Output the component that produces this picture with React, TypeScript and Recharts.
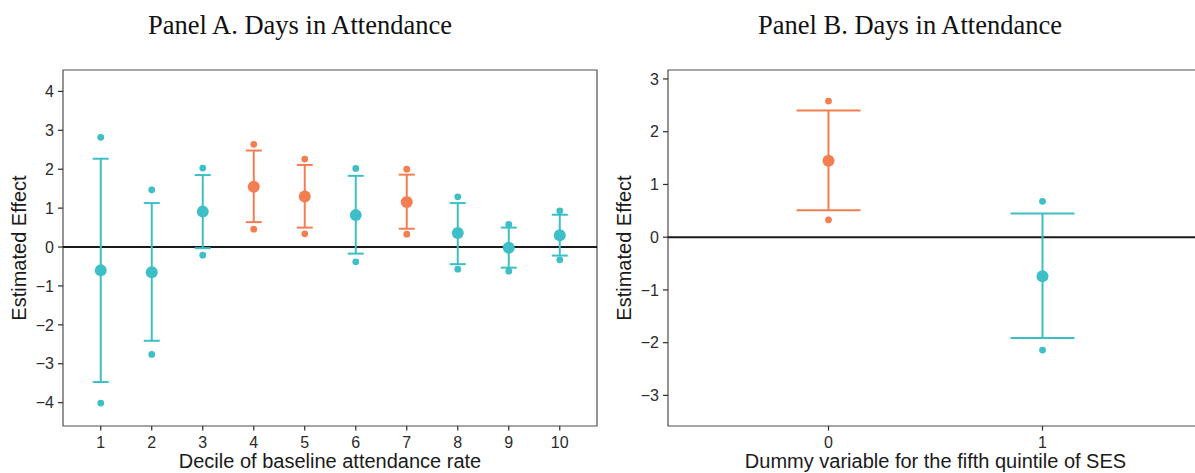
import React from "react";
import {
  ErrorBar,
  Label,
  ReferenceArea,
  ReferenceLine,
  Scatter,
  ScatterChart,
  XAxis,
  YAxis,
} from "recharts";

// Panel A: effect by decile of baseline attendance
const deciles = [1, 2, 3, 4, 5, 6, 7, 8, 9, 10];
const estA = [-0.6, -0.65, 0.91, 1.55, 1.3, 0.82, 1.16, 0.36, -0.02, 0.3];
const capLoA = [-3.47, -2.41, -0.03, 0.64, 0.5, -0.17, 0.47, -0.44, -0.53, -0.22];
const capHiA = [2.27, 1.13, 1.85, 2.48, 2.11, 1.83, 1.86, 1.13, 0.5, 0.83];
const dotLoA = [-4.01, -2.76, -0.21, 0.46, 0.34, -0.38, 0.33, -0.57, -0.62, -0.33];
const dotHiA = [2.82, 1.47, 2.03, 2.64, 2.26, 2.02, 2.0, 1.29, 0.58, 0.93];
const sigA = [false, false, false, true, true, false, true, false, false, false];
const yTicksA = [-4, -3, -2, -1, 0, 1, 2, 3, 4];

// Panel B: effect by fifth-quintile SES dummy
const dummy = [0, 1];
const estB = [1.45, -0.74];
const capLoB = [0.51, -1.91];
const capHiB = [2.4, 0.45];
const dotLoB = [0.33, -2.14];
const dotHiB = [2.58, 0.68];
const sigB = [true, false];
const yTicksB = [-3, -2, -1, 0, 1, 2, 3];

const TEAL = "#3CBFC6";
const ORANGE = "#F47E52";
const INK = "#2b2b2b";
const FONT = "'Liberation Sans', Arial, Helvetica, sans-serif";

const fmt = (v: number) => (v < 0 ? "\u2212" + Math.abs(v) : String(v));

interface PanelProps {
  xs: number[];
  est: number[];
  capLo: number[];
  capHi: number[];
  dotLo: number[];
  dotHi: number[];
  sig: boolean[];
  xDomain: [number, number];
  yDomain: [number, number];
  yTicks: number[];
  capHalf: number;
  xLabel: string;
  width: number;
  yAxisWidth: number;
  rightMargin: number;
  yLabelOffset: number;
}

const Panel = (p: PanelProps) => {
  const rows = p.xs.map((x, i) => ({
    x,
    y: p.est[i],
    err: [p.est[i] - p.capLo[i], p.capHi[i] - p.est[i]],
    sig: p.sig[i],
  }));
  const sigRows = rows.filter((r) => r.sig);
  const nsRows = rows.filter((r) => !r.sig);
  const dots = p.xs.flatMap((x, i) => [
    { x, y: p.dotLo[i], sig: p.sig[i] },
    { x, y: p.dotHi[i], sig: p.sig[i] },
  ]);

  const big = (color: string) => (s: any) =>
    <circle cx={s.cx} cy={s.cy} r={6} fill={color} />;
  const small = (s: any) => (
    <circle cx={s.cx} cy={s.cy} r={3.4} fill={s.payload.sig ? ORANGE : TEAL} />
  );

  return (
    <ScatterChart
      width={p.width}
      height={473}
      margin={{ top: 70, right: p.rightMargin, bottom: 0, left: 0 }}
    >
      <XAxis
        type="number"
        dataKey="x"
        domain={p.xDomain}
        ticks={p.xs}
        allowDataOverflow
        axisLine={false}
        tickLine={{ stroke: INK, strokeWidth: 1.2 }}
        tickSize={4.5}
        tickMargin={6.5}
        fontSize={16}
        fontFamily={FONT}
        tick={{ fill: INK, fontSize: 16, fontFamily: FONT }}
        height={47}
      >
        <Label
          value={p.xLabel}
          position="insideBottom"
          offset={5}
          style={{ fill: "#1a1a1a", fontSize: 20, fontFamily: FONT }}
        />
      </XAxis>
      <YAxis
        type="number"
        dataKey="y"
        domain={p.yDomain}
        ticks={p.yTicks}
        allowDataOverflow
        tickFormatter={fmt}
        axisLine={false}
        tickLine={{ stroke: INK, strokeWidth: 1.2 }}
        tickSize={5}
        tickMargin={4}
        fontSize={16}
        fontFamily={FONT}
        tick={{ fill: INK, fontSize: 16, fontFamily: FONT }}
        width={p.yAxisWidth}
      >
        <Label
          value="Estimated Effect"
          angle={-90}
          position="insideLeft"
          offset={p.yLabelOffset}
          style={{ textAnchor: "middle", fill: "#1a1a1a", fontSize: 20, fontFamily: FONT }}
        />
      </YAxis>
      <ReferenceArea
        x1={p.xDomain[0]}
        x2={p.xDomain[1]}
        y1={p.yDomain[0]}
        y2={p.yDomain[1]}
        fill="none"
        stroke="#4d4d4d"
        strokeWidth={1.2}
      />
      <ReferenceLine y={0} stroke="#1a1a1a" strokeWidth={2} />
      <Scatter data={dots} shape={small} isAnimationActive={false} />
      <Scatter data={nsRows} shape={big(TEAL)} isAnimationActive={false}>
        <ErrorBar
          dataKey="err"
          direction="y"
          width={p.capHalf}
          stroke={TEAL}
          strokeWidth={2}
        />
      </Scatter>
      <Scatter data={sigRows} shape={big(ORANGE)} isAnimationActive={false}>
        <ErrorBar
          dataKey="err"
          direction="y"
          width={p.capHalf}
          stroke={ORANGE}
          strokeWidth={2}
        />
      </Scatter>
    </ScatterChart>
  );
};

const titleStyle: React.CSSProperties = {
  position: "absolute",
  top: 10,
  width: 600,
  textAlign: "center",
  fontFamily: "'Liberation Serif', 'Times New Roman', serif",
  fontSize: 26.5,
  lineHeight: "30px",
  color: "#111",
};

export default function App() {
  return (
    <div
      style={{
        position: "absolute",
        left: 0,
        top: 0,
        width: 1195,
        height: 473,
        overflow: "hidden",
        background: "#fff",
      }}
    >
      <div style={{ position: "absolute", left: 0, top: 0 }}>
        <Panel
          xs={deciles}
          est={estA}
          capLo={capLoA}
          capHi={capHiA}
          dotLo={dotLoA}
          dotHi={dotHiA}
          sig={sigA}
          xDomain={[0.26, 10.73]}
          yDomain={[-4.6, 4.55]}
          yTicks={yTicksA}
          capHalf={8}
          xLabel="Decile of baseline attendance rate"
          width={600}
          yAxisWidth={63}
          rightMargin={3}
          yLabelOffset={19}
        />
      </div>
      <div style={{ position: "absolute", left: 600, top: 0 }}>
        <Panel
          xs={dummy}
          est={estB}
          capLo={capLoB}
          capHi={capHiB}
          dotLo={dotLoB}
          dotHi={dotHiB}
          sig={sigB}
          xDomain={[-0.75, 1.75]}
          yDomain={[-3.58, 3.17]}
          yTicks={yTicksB}
          capHalf={32}
          xLabel="Dummy variable for the fifth quintile of SES"
          width={610}
          yAxisWidth={68}
          rightMargin={7}
          yLabelOffset={24}
        />
      </div>
      <div style={{ ...titleStyle, left: 0 }}>Panel A. Days in Attendance</div>
      <div style={{ ...titleStyle, left: 610 }}>Panel B. Days in Attendance</div>
    </div>
  );
}
